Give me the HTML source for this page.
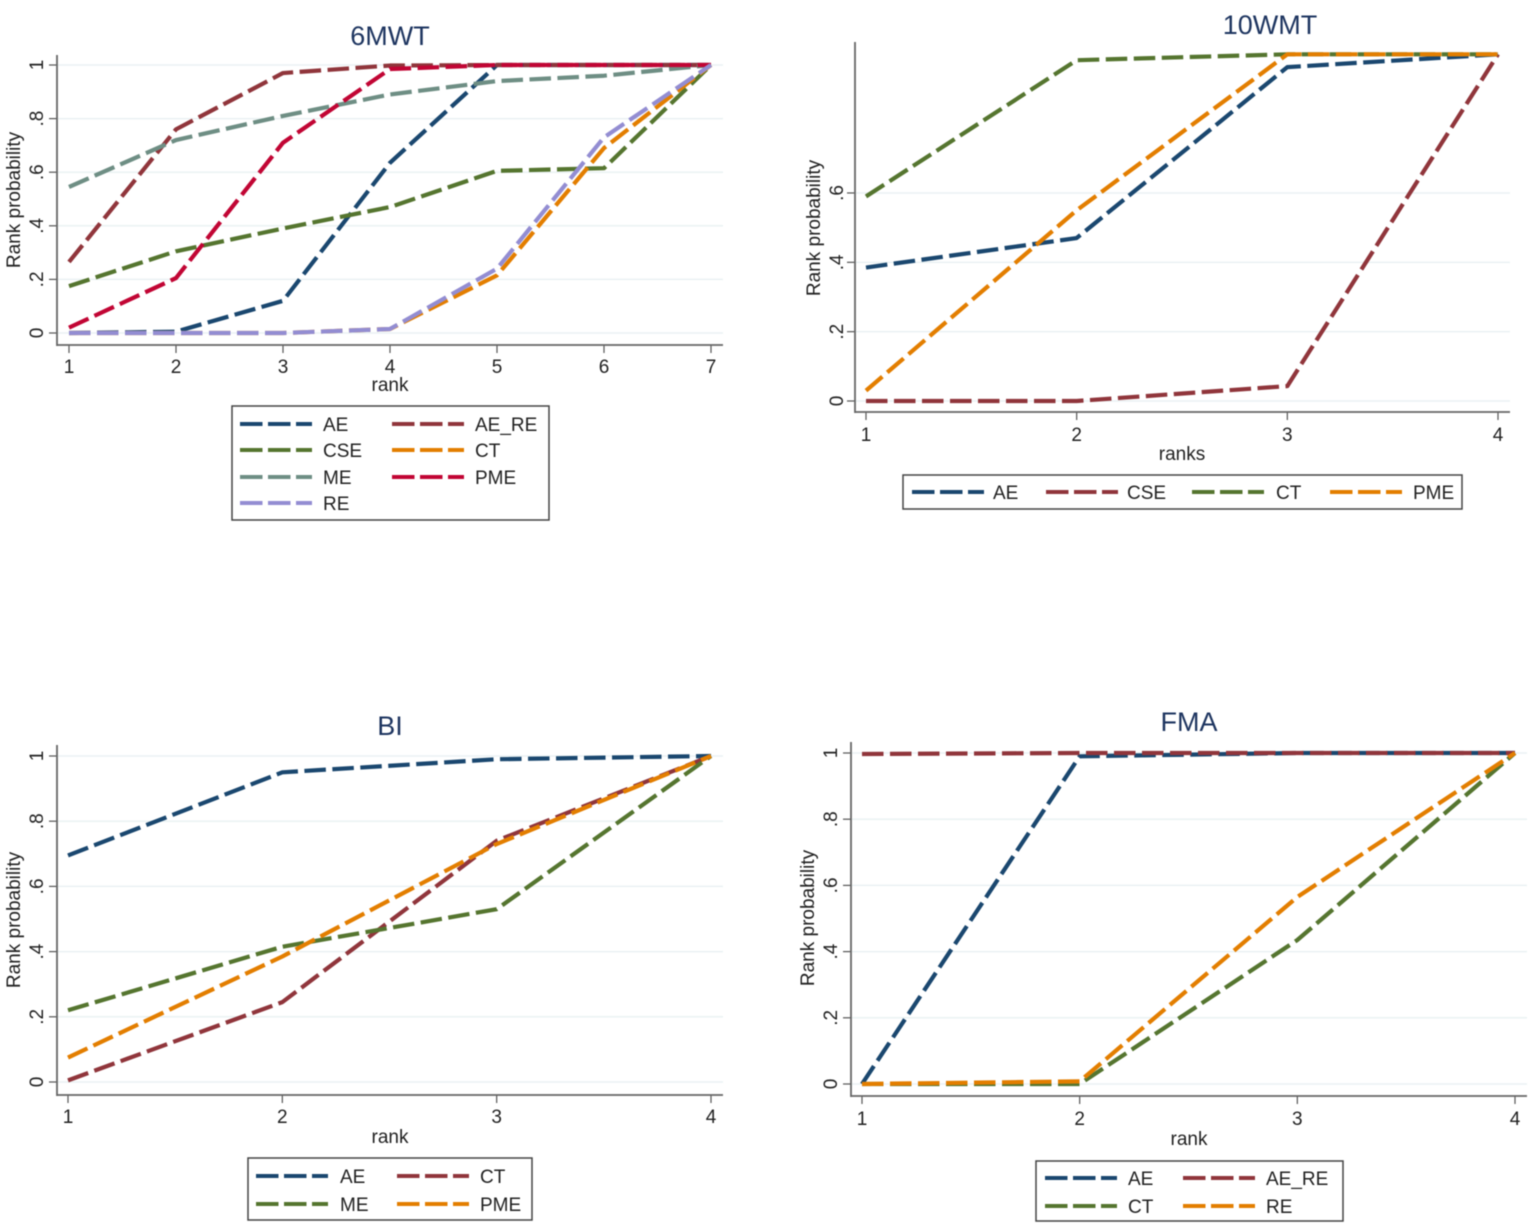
<!DOCTYPE html>
<html lang="en">
<head>
<meta charset="utf-8">
<title>Rank probability charts</title>
<style>
html,body{margin:0;padding:0;background:#fff;width:1535px;height:1229px;overflow:hidden}
svg{display:block;filter:blur(0.4px)}
text{font-family:"Liberation Sans",sans-serif;fill:#222}
</style>
</head>
<body>
<svg id="chart" width="1535" height="1229" viewBox="0 0 1535 1229" xmlns="http://www.w3.org/2000/svg"></svg>
<script>
// ---- data ----
const ranks7 = [1, 2, 3, 4, 5, 6, 7];
const ranks4 = [1, 2, 3, 4];
const ticks6MWT = [0, 0.2, 0.4, 0.6, 0.8, 1];
const ticks10WMT = [0, 0.2, 0.4, 0.6];
const ticksBI = [0, 0.2, 0.4, 0.6, 0.8, 1];
const ticksFMA = [0, 0.2, 0.4, 0.6, 0.8, 1];

const mwtAE = [0, 0.005, 0.12, 0.635, 1, 1, 1];
const mwtAERE = [0.265, 0.76, 0.97, 0.998, 1, 1, 1];
const mwtCSE = [0.175, 0.305, 0.39, 0.47, 0.605, 0.615, 1];
const mwtCT = [0, 0, 0, 0.015, 0.215, 0.69, 1];
const mwtME = [0.545, 0.72, 0.81, 0.89, 0.94, 0.96, 1];
const mwtPME = [0.02, 0.205, 0.71, 0.985, 1, 1, 1];
const mwtRE = [0, 0, 0, 0.015, 0.24, 0.73, 1];

const wmtAE = [0.385, 0.47, 0.963, 1];
const wmtCSE = [0, 0, 0.043, 1];
const wmtCT = [0.59, 0.983, 1, 1];
const wmtPME = [0.03, 0.55, 1, 1];

const biAE = [0.695, 0.95, 0.99, 1];
const biCT = [0.005, 0.245, 0.74, 1];
const biME = [0.22, 0.415, 0.53, 1];
const biPME = [0.075, 0.385, 0.73, 1];

const fmaAE = [0, 0.99, 1, 1];
const fmaAERE = [0.997, 1, 1, 1];
const fmaCT = [0, 0, 0.435, 1];
const fmaRE = [0, 0.008, 0.565, 1];

// ---- palette ----
const NAVY = '#1a476f', MAROON = '#90353b', GREEN = '#55752f', ORANGE = '#e37e00',
      TEAL = '#6e8e84', RED = '#c10534', LILAC = '#938dd2';

// ---- panel layout ----
const panels = [
  {
    slug: '6mwt', title: '6MWT', titleX: 390, titleY: 45, xName: 'rank', xNameX: 390, xNameY: 391,
    ranks: ranks7, ticks: ticks6MWT,
    axisL: 57, axisR: 723, axisT: 55, axisB: 345, x1: 69, xN: 711, y0: 333, y1: 65,
    xTickY: 373, yTickX: 43, yNameX: 20, yNameY: 200,
    series: [
      ['AE', mwtAE, NAVY], ['AE_RE', mwtAERE, MAROON], ['CSE', mwtCSE, GREEN], ['CT', mwtCT, ORANGE],
      ['ME', mwtME, TEAL], ['PME', mwtPME, RED], ['RE', mwtRE, LILAC]
    ],
    legendBox: [232, 406, 549, 520],
    legendCells: [[240, 424], [392, 424], [240, 450], [392, 450], [240, 477], [392, 477], [240, 503]],
    legendLabelDx: [83, 83, 83, 83, 83, 83, 83]
  },
  {
    slug: '10wmt', title: '10WMT', titleX: 1270, titleY: 34, xName: 'ranks', xNameX: 1182, xNameY: 460,
    ranks: ranks4, ticks: ticks10WMT,
    axisL: 855, axisR: 1510, axisT: 42, axisB: 412, x1: 866, xN: 1498, y0: 401, y1: 54.3,
    xTickY: 441, yTickX: 843, yNameX: 820, yNameY: 228,
    series: [
      ['AE', wmtAE, NAVY], ['CSE', wmtCSE, MAROON], ['CT', wmtCT, GREEN], ['PME', wmtPME, ORANGE]
    ],
    legendBox: [903, 475, 1462, 509],
    legendCells: [[912, 492], [1046, 492], [1192, 492], [1330, 492]],
    legendLabelDx: [81, 81, 84, 83]
  },
  {
    slug: 'bi', title: 'BI', titleX: 390, titleY: 735, xName: 'rank', xNameX: 390, xNameY: 1143,
    ranks: ranks4, ticks: ticksBI,
    axisL: 57, axisR: 723, axisT: 745, axisB: 1095, x1: 68, xN: 711, y0: 1082, y1: 756,
    xTickY: 1123, yTickX: 43, yNameX: 20, yNameY: 920,
    series: [
      ['AE', biAE, NAVY], ['CT', biCT, MAROON], ['ME', biME, GREEN], ['PME', biPME, ORANGE]
    ],
    legendBox: [248, 1158, 532, 1220],
    legendCells: [[256, 1176], [397, 1176], [256, 1204], [397, 1204]],
    legendLabelDx: [84, 83, 84, 83]
  },
  {
    slug: 'fma', title: 'FMA', titleX: 1189, titleY: 731, xName: 'rank', xNameX: 1189, xNameY: 1145,
    ranks: ranks4, ticks: ticksFMA,
    axisL: 851, axisR: 1527, axisT: 742, axisB: 1096, x1: 862, xN: 1515, y0: 1084, y1: 753,
    xTickY: 1125, yTickX: 837, yNameX: 814, yNameY: 918,
    series: [
      ['AE', fmaAE, NAVY], ['AE_RE', fmaAERE, MAROON], ['CT', fmaCT, GREEN], ['RE', fmaRE, ORANGE]
    ],
    legendBox: [1036, 1161, 1343, 1221],
    legendCells: [[1045, 1178], [1183, 1178], [1045, 1206], [1183, 1206]],
    legendLabelDx: [83, 83, 83, 83]
  }
];

// ---- drawing ----
const SVG_NS = 'http://www.w3.org/2000/svg';
const root = document.getElementById('chart');

function mk(tag, props, parent) {
  const el = document.createElementNS(SVG_NS, tag);
  for (const k in props) el.setAttribute(k, props[k]);
  parent.appendChild(el);
  return el;
}
function tickText(v) {
  if (v === 0) return '0';
  if (v === 1) return '1';
  return String(v).replace(/^0/, '');
}

panels.forEach(function (p) {
  const minRank = p.ranks[0], maxRank = p.ranks[p.ranks.length - 1];
  const xScale = function (r) { return p.x1 + (r - minRank) / (maxRank - minRank) * (p.xN - p.x1); };
  const yScale = function (v) { return p.y0 + v * (p.y1 - p.y0); };

  const g = mk('g', {}, root);
  
  

  const title = mk('text', { x: p.titleX, y: p.titleY, 'text-anchor': 'middle', 'font-size': 27 }, g);
  title.setAttribute('style', 'fill:#1e3560');
  title.textContent = p.title;
  
  

  // gridlines and y ticks
  p.ticks.forEach(function (v) {
    const y = yScale(v);
    const grid = mk('line', { x1: p.axisL, x2: p.axisR, y1: y, y2: y, stroke: '#eaf2f3', 'stroke-width': 1.5 }, g);
    
    
    const tick = mk('line', { x1: p.axisL - 8, x2: p.axisL, y1: y, y2: y, stroke: '#555', 'stroke-width': 1.2 }, g);
    
    
    const label = mk('text', { x: p.yTickX, y: y, 'text-anchor': 'middle', 'font-size': 19, transform: 'rotate(-90 ' + p.yTickX + ' ' + y + ')' }, g);
    label.textContent = tickText(v);
    
    
  });

  // x ticks
  p.ranks.forEach(function (r) {
    const x = xScale(r);
    const tick = mk('line', { x1: x, x2: x, y1: p.axisB, y2: p.axisB + 8, stroke: '#555', 'stroke-width': 1.2 }, g);
    
    
    const label = mk('text', { x: x, y: p.xTickY, 'text-anchor': 'middle', 'font-size': 19 }, g);
    label.textContent = String(r);
    
    
  });

  // axes
  const yAxis = mk('line', { x1: p.axisL, x2: p.axisL, y1: p.axisT, y2: p.axisB + 1, stroke: '#666', 'stroke-width': 1.8 }, g);
  
  
  const xAxis = mk('line', { x1: p.axisL, x2: p.axisR, y1: p.axisB, y2: p.axisB, stroke: '#666', 'stroke-width': 1.8 }, g);
  
  

  // axis titles
  const xName = mk('text', { x: p.xNameX, y: p.xNameY, 'text-anchor': 'middle', 'font-size': 19 }, g);
  xName.textContent = p.xName;
  
  
  const yName = mk('text', { x: p.yNameX, y: p.yNameY, 'text-anchor': 'middle', 'font-size': 19, transform: 'rotate(-90 ' + p.yNameX + ' ' + p.yNameY + ')' }, g);
  yName.textContent = 'Rank probability';
  
  

  // series lines
  p.series.forEach(function (s) {
    const pts = s[1].map(function (v, i) { return xScale(p.ranks[i]) + ',' + yScale(v); }).join(' ');
    const line = mk('polyline', { points: pts, fill: 'none', stroke: s[2], 'stroke-width': 4.2, 'stroke-dasharray': '21.5 6.5', 'stroke-linejoin': 'round' }, g);
    
    
  });

  // legend
  const b = p.legendBox;
  const box = mk('rect', { x: b[0], y: b[1], width: b[2] - b[0], height: b[3] - b[1], fill: '#fff', stroke: '#444', 'stroke-width': 1.5 }, g);
  
  
  p.series.forEach(function (s, i) {
    const c = p.legendCells[i];
    const key = mk('line', { x1: c[0], x2: c[0] + 72, y1: c[1], y2: c[1], stroke: s[2], 'stroke-width': 4, 'stroke-dasharray': '22.5 5.5' }, g);
    
    
    const text = mk('text', { x: c[0] + p.legendLabelDx[i], y: c[1] + 7, 'font-size': 19 }, g);
    text.textContent = s[0];
    
    
  });
});
</script>
</body>
</html>
